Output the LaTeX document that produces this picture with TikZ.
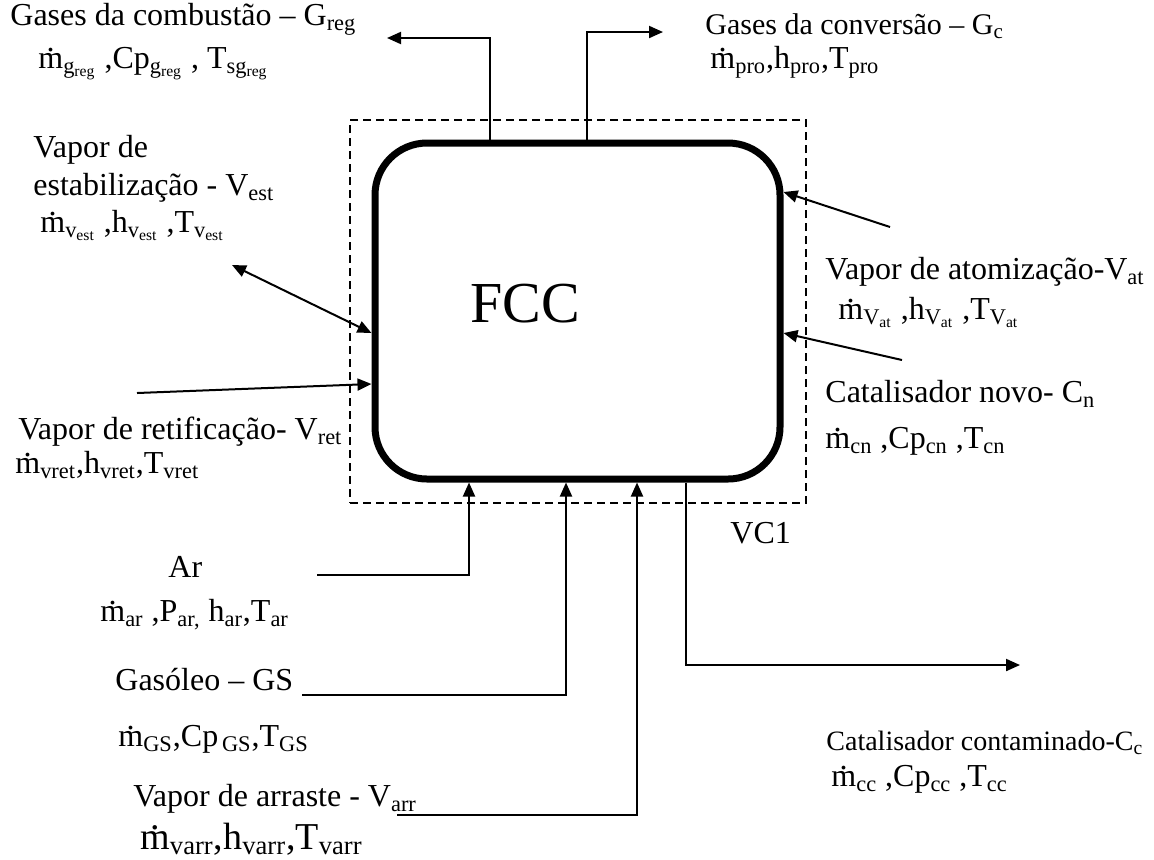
\documentclass[tikz,border=0pt]{standalone}
\usepackage{fontspec}
\setmainfont{Liberation Serif}
\usetikzlibrary{arrows.meta, positioning}
\newcommand{\mdot}{\leavevmode\rlap{\kern0.26em\raisebox{0.52em}{.}}m}
\newcommand{\sbs}[1]{\textsubscript{#1}}

\begin{document}
\begin{tikzpicture}[
    x=0.5pt, y=-0.5pt,
    >={Triangle[length=7pt,width=6pt]},
    every node/.style={font=\fontsize{16}{19}\selectfont, inner sep=0pt},
    flow/.style={->, line width=1pt},
    lbl/.style={anchor=base west},
]
\useasboundingbox (0,0) rectangle (1154,859);
% control volume and reactor
\node[draw, line width=0.75pt, dash pattern=on 4pt off 2.5pt,
      minimum width=228pt, minimum height=191.5pt] (vc) at (578,311.5) {};
\node[draw, line width=3.5pt, rounded corners=26pt,
      minimum width=202.5pt, minimum height=168pt] (fcc) at (577.5,311) {};
\node[font=\fontsize{29}{34}\selectfont] (fcctxt) at (525,304) {FCC};
\node[lbl] (vclbl) at (730,543) {VC1};
% exits on top
\coordinate (greg) at (387,38);
\coordinate (gc) at (663,32);
\draw[flow] ([xshift=-43.75pt]fcc.north) |- (greg);
\draw[flow] ([xshift=4.75pt]fcc.north) |- (gc);
\node[lbl] (greglbl) at (10,25) {Gases da combustão – G\sbs{reg}};
\node[lbl] (gregvar) at (38,68) {\mdot\sbs{g\sbs{reg}} ,Cp\sbs{g\sbs{reg}} , T\sbs{sg\sbs{reg}}};
\node[lbl, font=\fontsize{15}{18}\selectfont] (gclbl) at (705,34) {Gases da conversão – G\sbs{c}};
\node[lbl] (gcvar) at (710,68) {\mdot\sbs{pro},h\sbs{pro},T\sbs{pro}};
% left side steam
\coordinate (vest) at (232,265);
\coordinate (vret) at (137,393);
\draw[flow, <->] (vest) -- ([yshift=-11pt]fcc.west);
\draw[flow] (vret) -- ([yshift=-36.5pt]fcc.west);
\node[lbl] (vestlbl1) at (33,157) {Vapor de};
\node[lbl] (vestlbl2) at (33,195) {estabilização - V\sbs{est}};
\node[lbl] (vestvar) at (40,232) {\mdot\sbs{v\sbs{est}} ,h\sbs{v\sbs{est}} ,T\sbs{v\sbs{est}}};
\node[lbl] (vretlbl) at (18,439) {Vapor de retificação- V\sbs{ret}};
\node[lbl] (vretvar) at (15,473) {\mdot\sbs{vret},h\sbs{vret},T\sbs{vret}};
% right side inlets
\coordinate (vat) at (890,227);
\coordinate (cn) at (902,360);
\draw[flow] (vat) -- ([yshift=59.5pt]fcc.east);
\draw[flow] (cn) -- ([yshift=-11pt]fcc.east);
\node[lbl] (vatlbl) at (825,279) {Vapor de atomização-V\sbs{at}};
\node[lbl] (vatvar) at (838,319) {\mdot\sbs{V\sbs{at}} ,h\sbs{V\sbs{at}} ,T\sbs{V\sbs{at}}};
\node[lbl] (cnlbl) at (825,402) {Catalisador novo- C\sbs{n}};
\node[lbl] (cnvar) at (825,448) {\mdot\sbs{cn} ,Cp\sbs{cn} ,T\sbs{cn}};
% bottom feeds
\coordinate (ar) at (317,575);
\coordinate (gs) at (302,695);
\coordinate (varr) at (397,815);
\coordinate (cc) at (1020,665);
\draw[flow] (ar) -| ([xshift=-54.25pt]fcc.south);
\draw[flow] (gs) -| ([xshift=-5.75pt]fcc.south);
\draw[flow] (varr) -| ([xshift=29.75pt]fcc.south);
\draw[flow] ([xshift=54.25pt]fcc.south) |- (cc);
\node[lbl] (arlbl) at (168,577) {Ar};
\node[lbl] (arvar) at (100,621) {\mdot\sbs{ar} ,P\sbs{ar,} h\sbs{ar},T\sbs{ar}};
\node[lbl] (gslbl) at (115,690) {Gasóleo – GS};
\node[lbl] (gsvar) at (118,746) {\mdot\sbs{GS},Cp\sbs{\,GS},T\sbs{GS}};
\node[lbl] (varrlbl) at (133,806) {Vapor de arraste - V\sbs{arr}};
\node[lbl, font=\fontsize{19}{22}\selectfont] (varrvar) at (140,849) {\mdot\sbs{varr},h\sbs{varr},T\sbs{varr}};
\node[lbl, font=\fontsize{14}{17}\selectfont] (cclbl) at (826,750) {Catalisador contaminado-C\sbs{c}};
\node[lbl] (ccvar) at (831,786) {\mdot\sbs{cc} ,Cp\sbs{cc} ,T\sbs{cc}};
\end{tikzpicture}
\end{document}
